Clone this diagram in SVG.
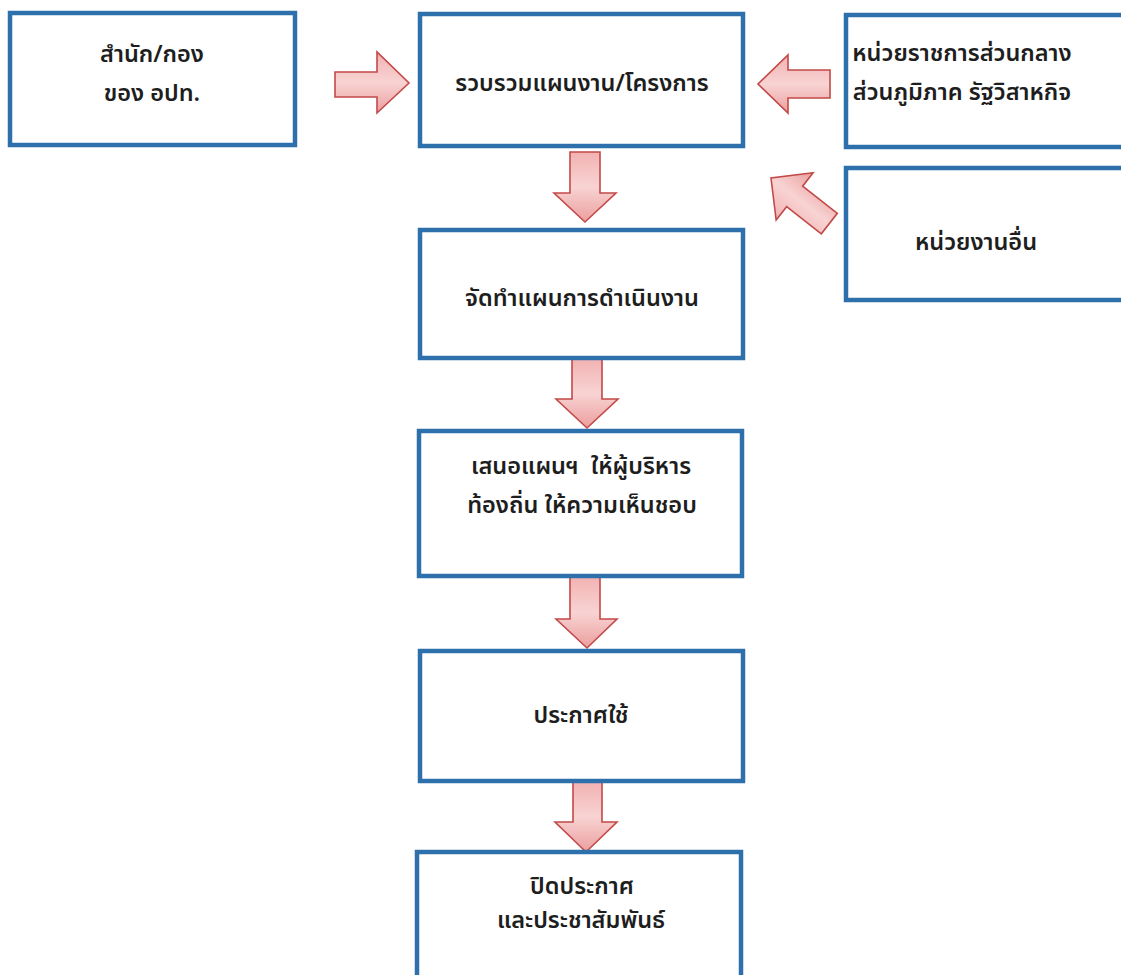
<svg xmlns="http://www.w3.org/2000/svg" width="1121" height="975" viewBox="0 0 1121 975">
<defs>
<style>
.box{fill:#ffffff;stroke:#2e70ac;stroke-width:4.5}
.arr{fill:url(#pink);stroke:#c24a48;stroke-width:1.6;stroke-linejoin:miter}
.t{font-family:"Noto Sans Thai","Noto Sans","DejaVu Sans",sans-serif;font-size:23.5px;font-weight:600;fill:#1e1e1e;text-anchor:middle}
</style>
<linearGradient id="pink" x1="0" y1="0" x2="0" y2="1">
<stop offset="0" stop-color="#f2b2b2"/>
<stop offset="0.5" stop-color="#f8d3d3"/>
<stop offset="1" stop-color="#ec9e9e"/>
</linearGradient>
</defs>
<rect width="1121" height="975" fill="#ffffff"/>

<g id="connectors">
<path class="arr" d="M335,72 L377,72 L377,52 L409,83 L377,113 L377,97 L335,97 Z"/>
<path class="arr" d="M830,70 L788,70 L788,55 L758,84 L788,113 L788,98 L830,98 Z"/>
<path class="arr" transform="translate(771,178) rotate(218)" d="M-74,-13 L-30,-13 L-30,-30 L0,0 L-30,30 L-30,13 L-74,13 Z"/>
<path class="arr" d="M570,152 L600,152 L600,193 L616,193 L585,222 L554,193 L570,193 Z"/>
<path class="arr" d="M572,359 L602,359 L602,399 L618,399 L587,428 L556,399 L572,399 Z"/>
<path class="arr" d="M570,577 L600,577 L600,619 L617,619 L587,648 L556,619 L570,619 Z"/>
<path class="arr" d="M573,782 L602,782 L602,822 L617,822 L586,852 L555,822 L573,822 Z"/>
</g>

<g id="n_sumnak">
<rect class="box" x="10" y="13" width="285" height="132"/>
<text class="t" x="152" y="62">สำนัก/กอง</text>
<text class="t" x="152" y="101">ของ อปท.</text>
</g>

<g id="n_ruam">
<rect class="box" x="420" y="14" width="323" height="132"/>
<text class="t" x="582" y="91">รวบรวมแผนงาน/โครงการ</text>
</g>

<g id="n_rachakan">
<rect class="box" x="846" y="15" width="290" height="132"/>
<text class="t" x="962" y="61">หน่วยราชการส่วนกลาง</text>
<text class="t" x="962" y="100">ส่วนภูมิภาค รัฐวิสาหกิจ</text>
</g>

<g id="n_uen">
<rect class="box" x="846" y="168" width="290" height="132"/>
<text class="t" x="976" y="250">หน่วยงานอื่น</text>
</g>

<g id="n_jadtham">
<rect class="box" x="420" y="230" width="323" height="128"/>
<text class="t" x="582" y="306">จัดทำแผนการดำเนินงาน</text>
</g>

<g id="n_sanoe">
<rect class="box" x="419" y="431" width="323" height="145"/>
<text class="t" x="581" y="474" xml:space="preserve">เสนอแผนฯ  ให้ผู้บริหาร</text>
<text class="t" x="582" y="513">ท้องถิ่น ให้ความเห็นชอบ</text>
</g>

<g id="n_prakat">
<rect class="box" x="420" y="651" width="323" height="130"/>
<text class="t" x="581" y="723">ประกาศใช้</text>
</g>

<g id="n_pit">
<rect class="box" x="417" y="852" width="324" height="140"/>
<text class="t" x="582" y="894">ปิดประกาศ</text>
<text class="t" x="581" y="928">และประชาสัมพันธ์</text>
</g>
</svg>
